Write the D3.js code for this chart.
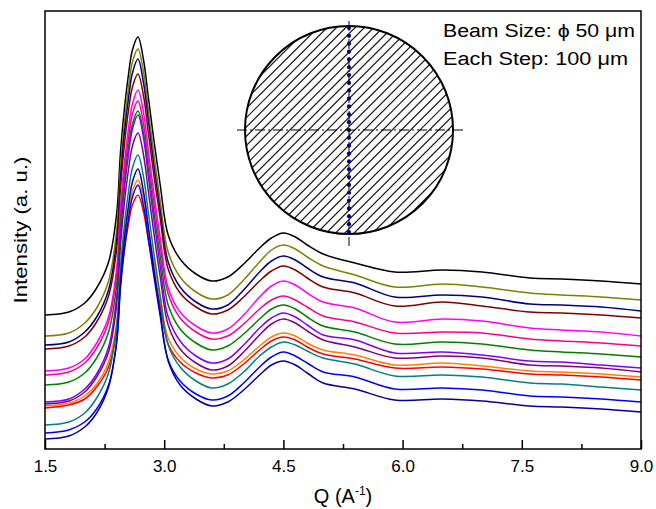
<!DOCTYPE html>
<html>
<head>
<meta charset="utf-8">
<script src="https://cdn.jsdelivr.net/npm/d3@7"></script>
<style>
  body { margin: 0; background: #fff; }
  svg { display: block; font-family: "Liberation Sans", Arial, sans-serif; }
</style>
</head>
<body>
<div id="chart"></div>
<script>
// Q grid (A^-1) the curves were read at
const qValues = [1.5, 1.8, 2.0, 2.15, 2.3, 2.4, 2.45, 2.5, 2.55, 2.6, 2.67, 2.74, 2.8, 2.87, 2.95,
  3.05, 3.2, 3.4, 3.6, 3.8, 4.0, 4.2, 4.35, 4.5, 4.65, 4.8, 5.0, 5.4, 5.9, 6.5, 7.0, 7.6, 8.0, 8.5, 9.0];

// intensity (a.u.), one array per scan position, top to bottom at Q = 9
const scanBlack = [134,137,146,161,187,234,297,341,374,399,412,389,352,309,264,214,190,175,168,172,185,201,211,216,212,204,195,186,177,179,177,171,170,168,165];
const scanDarkYellow = [113,116,126,141,168,217,281,327,361,387,400,377,339,295,248,197,172,157,150,154,169,187,199,204,200,192,183,174,162,165,162,156,154,152,149];
const scanNavy = [104,107,117,132,159,207,271,317,350,376,390,366,329,284,238,187,162,147,140,144,159,177,188,193,189,181,172,166,152,154,152,145,144,142,138];
const scanWine = [100,103,112,127,153,199,261,305,338,362,375,353,316,274,230,180,156,142,135,139,152,168,178,183,179,171,162,156,143,147,143,137,136,134,131];
const scanMagenta = [78,81,90,106,132,179,242,287,320,345,359,336,299,256,211,161,137,123,116,120,134,152,163,168,164,156,147,141,127,130,128,121,119,117,113];
const scanPink = [74,77,86,101,127,173,234,278,310,335,348,325,289,247,203,155,131,117,110,113,125,140,149,153,149,142,133,127,116,117,116,110,108,106,103];
const scanOlive = [64,67,76,91,117,163,225,268,301,325,338,316,280,237,193,144,120,106,99,103,115,130,140,144,140,132,123,117,105,107,105,99,97,95,92];
const scanViolet = [47,50,60,75,102,151,215,261,294,320,334,311,273,229,183,132,108,93,86,90,104,121,131,136,132,124,114,109,96,97,94,88,87,84,81];
const scanPurple = [45,48,57,72,97,143,204,247,279,303,316,294,258,216,172,124,100,86,79,83,97,114,125,130,126,118,109,102,91,93,91,84,83,81,77];
const scanOrange = [43,46,53,65,87,125,176,211,238,258,269,251,221,187,151,111,92,80,75,78,89,103,112,116,113,106,99,94,84,86,83,78,77,75,72];
const scanRed = [41,44,50,62,82,118,166,200,225,244,254,237,209,177,143,105,87,76,71,74,85,99,108,112,109,102,95,90,81,82,80,75,74,72,69];
const scanDarkCyan = [24,27,36,51,76,122,182,225,257,281,294,272,237,196,153,104,82,68,61,65,77,93,102,107,104,98,91,85,73,74,72,66,65,62,59];
const scanBlue = [16,19,27,40,64,105,161,200,230,252,264,243,211,173,133,89,68,55,49,53,66,82,92,97,93,86,77,72,60,61,59,53,52,50,47];
const scanRoyal = [10,13,22,36,62,107,168,211,243,267,280,257,222,180,136,88,64,50,43,47,59,74,84,88,84,76,66,60,49,50,48,43,42,40,37];

const scans = [
  { color: "#000000", values: scanBlack },
  { color: "#808000", values: scanDarkYellow },
  { color: "#000080", values: scanNavy },
  { color: "#800000", values: scanWine },
  { color: "#ff00ff", values: scanMagenta },
  { color: "#ff0080", values: scanPink },
  { color: "#008000", values: scanOlive },
  { color: "#8000ff", values: scanViolet },
  { color: "#800080", values: scanPurple },
  { color: "#ff8000", values: scanOrange },
  { color: "#ff0000", values: scanRed },
  { color: "#008080", values: scanDarkCyan },
  { color: "#0000ff", values: scanBlue },
  { color: "#0000a0", values: scanRoyal }
];

const xTicks = [1.5, 3.0, 4.5, 6.0, 7.5, 9.0];
const xMinorTicks = [2.25, 3.75, 5.25, 6.75, 8.25];

const width = 656, height = 509;
const margin = { top: 11, right: 15, bottom: 60, left: 45 };

const svg = d3.select("#chart").append("svg")
  .attr("width", width)
  .attr("height", height);

const x = d3.scaleLinear().domain([1.5, 9.0]).range([margin.left, width - margin.right]);
const y = d3.scaleLinear().domain([0, 438]).range([height - margin.bottom, margin.top]);

// curves
const line = d3.line()
  .x((d, i) => x(qValues[i]))
  .y(d => y(d))
  .curve(d3.curveCatmullRom.alpha(0.5));

svg.append("g")
  .attr("fill", "none")
  .attr("stroke-width", 1.5)
  .selectAll("path")
  .data(scans)
  .join("path")
  .attr("stroke", d => d.color)
  .attr("d", d => line(d.values));

// inset: sample disc with the scan line
const inset = { cx: 349, cy: 130, r: 104, dots: 27, hatchGap: 9.3 };
const g = svg.append("g");
g.append("clipPath").attr("id", "disc")
  .append("circle").attr("cx", inset.cx).attr("cy", inset.cy).attr("r", inset.r);

const hatch = g.append("g").attr("clip-path", "url(#disc)")
  .attr("stroke", "#1a1a1a").attr("stroke-width", 1.2);
for (let k = -2 * inset.r; k <= 2 * inset.r; k += inset.hatchGap) {
  hatch.append("line")
    .attr("x1", inset.cx + k - inset.r).attr("y1", inset.cy + inset.r)
    .attr("x2", inset.cx + k + inset.r).attr("y2", inset.cy - inset.r);
}
g.append("circle")
  .attr("cx", inset.cx).attr("cy", inset.cy).attr("r", inset.r)
  .attr("fill", "none").attr("stroke", "#000").attr("stroke-width", 2);

g.append("line")
  .attr("x1", inset.cx - inset.r - 8).attr("x2", inset.cx + inset.r + 10)
  .attr("y1", inset.cy).attr("y2", inset.cy)
  .attr("stroke", "#000").attr("stroke-width", 1)
  .attr("stroke-dasharray", "10,3,2,3");
g.append("line")
  .attr("x1", inset.cx).attr("x2", inset.cx)
  .attr("y1", inset.cy - inset.r - 5).attr("y2", inset.cy + inset.r + 12)
  .attr("stroke", "#000").attr("stroke-width", 1)
  .attr("stroke-dasharray", "10,3,2,3");

const step = (2 * inset.r - 4) / (inset.dots - 1);
g.append("g")
  .selectAll("circle")
  .data(d3.range(inset.dots))
  .join("circle")
  .attr("cx", inset.cx)
  .attr("cy", i => inset.cy - inset.r + 2 + i * step)
  .attr("r", 2.1)
  .attr("fill", i => (i === (inset.dots - 1) / 2 ? "#000020" : "#00007a"));

g.append("text").attr("x", 443).attr("y", 37)
  .attr("font-size", 18).attr("textLength", 192).attr("lengthAdjust", "spacingAndGlyphs")
  .text("Beam Size: ϕ 50 μm");
g.append("text").attr("x", 443).attr("y", 65)
  .attr("font-size", 18).attr("textLength", 185).attr("lengthAdjust", "spacingAndGlyphs")
  .text("Each Step: 100 μm");

// axes
svg.append("g")
  .attr("transform", `translate(0,${height - margin.bottom})`)
  .call(d3.axisBottom(x).tickValues(xTicks).tickFormat(d3.format(".1f"))
    .tickSizeInner(-9).tickSizeOuter(0).tickPadding(11))
  .call(a => a.select(".domain").remove())
  .call(a => a.selectAll("line").attr("stroke-width", 1.5))
  .call(a => a.selectAll("text").attr("font-size", 17).attr("font-family", "Liberation Sans, Arial, sans-serif").attr("fill", "#000"));

svg.append("g")
  .attr("transform", `translate(0,${height - margin.bottom})`)
  .call(d3.axisBottom(x).tickValues(xMinorTicks).tickFormat("").tickSizeInner(-5).tickSizeOuter(0))
  .call(a => a.select(".domain").remove())
  .call(a => a.selectAll("line").attr("stroke-width", 1.5));

svg.append("rect")
  .attr("x", margin.left).attr("y", margin.top)
  .attr("width", width - margin.left - margin.right)
  .attr("height", height - margin.top - margin.bottom)
  .attr("fill", "none").attr("stroke", "#000").attr("stroke-width", 1.5);

svg.append("text")
  .attr("transform", `translate(27,${(margin.top + height - margin.bottom) / 2}) rotate(-90)`)
  .attr("text-anchor", "middle")
  .attr("font-size", 19)
  .attr("textLength", 147).attr("lengthAdjust", "spacingAndGlyphs")
  .text("Intensity (a. u.)");

const xTitle = svg.append("text")
  .attr("x", (margin.left + width - margin.right) / 2)
  .attr("y", 503)
  .attr("text-anchor", "middle")
  .attr("font-size", 20);
xTitle.append("tspan").text("Q (A");
xTitle.append("tspan").attr("font-size", 12).attr("dy", -8).text("-1");
xTitle.append("tspan").attr("dy", 8).text(")");
</script>
</body>
</html>
